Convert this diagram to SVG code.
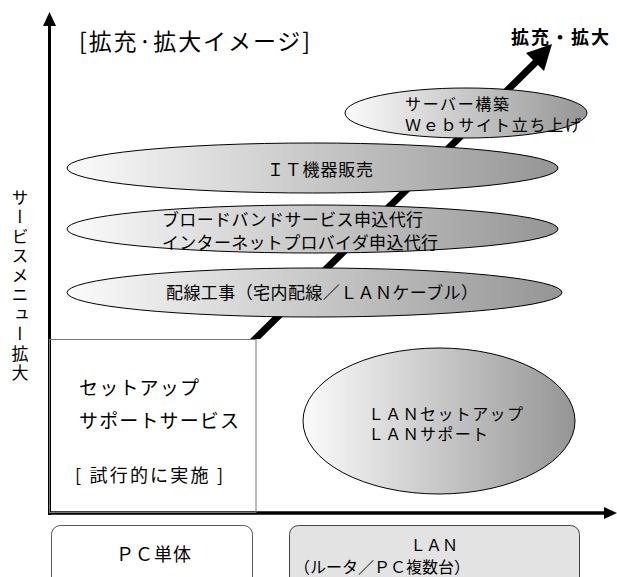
<svg xmlns="http://www.w3.org/2000/svg" width="617" height="577" viewBox="0 0 617 577">
<style>
text{font-family:"Noto Sans CJK JP","Liberation Sans",sans-serif;fill:#000}
.t17{font-size:17px}
.t16{font-size:16px}
.t18{font-size:18px}
.ell{fill:url(#g);stroke:#000;stroke-width:1}
</style>
<defs>
<linearGradient id="g" x1="0" y1="0" x2="1" y2="0">
<stop offset="0" stop-color="#fbfbfb"/>
<stop offset="1" stop-color="#959595"/>
</linearGradient>
<clipPath id="above"><rect x="0" y="0" width="617" height="339"/></clipPath>
</defs>
<rect width="617" height="577" fill="#fff"/>

<g id="connectors">
<line x1="49.5" y1="515" x2="49.5" y2="24" stroke="#000" stroke-width="3"/>
<polygon points="49.5,12 43,26 56,26" fill="#000"/>
<line x1="48" y1="513" x2="606" y2="513" stroke="#000" stroke-width="3.5"/>
<polygon points="617,513 604,507 604,519" fill="#000"/>
<line x1="246" y1="348" x2="540" y2="58" stroke="#000" stroke-width="7" clip-path="url(#above)"/>
<polygon points="552,44 526,53 544,71" fill="#000"/>
</g>

<g id="title"><text x="79" y="50" font-size="23" textLength="231" lengthAdjust="spacing">[拡充·拡大イメージ]</text></g>
<g id="goal"><text x="511" y="44" font-size="18" font-weight="bold" textLength="98" lengthAdjust="spacing">拡充・拡大</text></g>
<g id="yaxis-label"><text x="20" y="189" font-size="17" style="writing-mode:vertical-rl;letter-spacing:2.5px">サービスメニュー拡大</text></g>

<g id="setup-box">
<rect x="49.5" y="339.5" width="206.5" height="173" fill="none" stroke="#777" stroke-width="1"/>
<text x="79" y="395" font-size="19" textLength="120" lengthAdjust="spacing">セットアップ</text>
<text x="79" y="428" font-size="19" textLength="160" lengthAdjust="spacing">サポートサービス</text>
<text x="75" y="482" class="t18" textLength="148" lengthAdjust="spacing">[ 試行的に実施 ]</text>
</g>

<g id="server">
<ellipse class="ell" cx="466" cy="113" rx="121" ry="25"/>
<text x="405" y="110" class="t16" textLength="104" lengthAdjust="spacing">サーバー構築</text>
<text x="405" y="131" class="t16" textLength="176" lengthAdjust="spacing">Ｗｅｂサイト立ち上げ</text>
</g>

<g id="it-sales">
<ellipse class="ell" cx="312.5" cy="168" rx="245.5" ry="25"/>
<text x="267" y="176" class="t17" textLength="106" lengthAdjust="spacing">ＩＴ機器販売</text>
</g>

<g id="broadband">
<ellipse class="ell" cx="312.5" cy="229" rx="245.5" ry="24"/>
<text x="162" y="226" class="t17" textLength="261" lengthAdjust="spacing">ブロードバンドサービス申込代行</text>
<text x="162" y="249" class="t17" textLength="276" lengthAdjust="spacing">インターネットプロバイダ申込代行</text>
</g>

<g id="wiring">
<ellipse class="ell" cx="314.5" cy="292.5" rx="247.5" ry="24.5"/>
<text x="166" y="299" class="t17" textLength="312" lengthAdjust="spacing">配線工事（宅内配線／ＬＡＮケーブル）</text>
</g>

<g id="lan-service">
<ellipse class="ell" cx="439" cy="421" rx="136" ry="73"/>
<text x="368" y="420" class="t16" textLength="155" lengthAdjust="spacing">ＬＡＮセットアップ</text>
<text x="368" y="440" class="t16" textLength="120" lengthAdjust="spacing">ＬＡＮサポート</text>
</g>

<g id="pc-single">
<rect x="51.5" y="525.5" width="201" height="70" rx="9" fill="#fff" stroke="#555" stroke-width="1"/>
<text x="116" y="561" class="t18" textLength="75" lengthAdjust="spacing">ＰＣ単体</text>
</g>

<g id="lan">
<rect x="289.5" y="525.5" width="290" height="70" rx="9" fill="#e3e3e3" stroke="#444" stroke-width="1"/>
<text x="410" y="551" class="t16" textLength="48" lengthAdjust="spacing">ＬＡＮ</text>
<text x="294" y="573" class="t16" textLength="176" lengthAdjust="spacing">（ルータ／ＰＣ複数台）</text>
</g>
</svg>
